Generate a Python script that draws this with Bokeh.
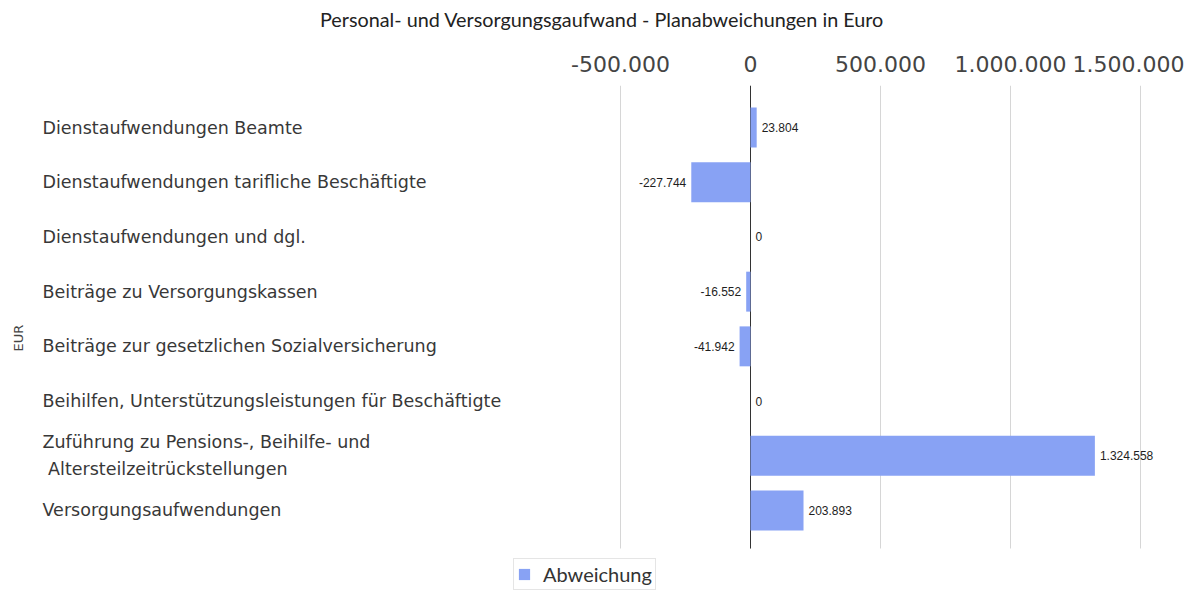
from bokeh.plotting import figure
from bokeh.models import (Range1d, ColumnDataSource, FixedTicker, Grid,
                          CustomJSTickFormatter, Legend, LegendItem)
from bokeh.core.properties import value
from bokeh.embed import file_html
from bokeh.resources import INLINE

# ---- data ----
categories = [
    "Dienstaufwendungen Beamte",
    "Dienstaufwendungen tarifliche Beschäftigte",
    "Dienstaufwendungen und dgl.",
    "Beiträge zu Versorgungskassen",
    "Beiträge zur gesetzlichen Sozialversicherung",
    "Beihilfen, Unterstützungsleistungen für Beschäftigte",
    "Zuführung zu Pensions-, Beihilfe- und\n\u00a0Altersteilzeitrückstellungen",
    "Versorgungsaufwendungen",
]
abweichung = [23804, -227744, 0, -16552, -41942, 0, 1324558, 203893]
x_ticks = [-500000, 0, 500000, 1000000, 1500000]
series_name = "Abweichung"
title_text = "Personal- und Versorgungsgaufwand - Planabweichungen in Euro"
y_label = "EUR"


def de_fmt(v):
    return f"{v:,}".replace(",", ".")


pos = list(range(len(categories)))
labels = [de_fmt(v) for v in abweichung]
aligns = ["right" if v < 0 else "left" for v in abweichung]
offsets = [-5 if v < 0 else 5 for v in abweichung]

src = ColumnDataSource(dict(pos=pos, cat=categories, val=abweichung, lbl=labels,
                            align=aligns, off=offsets))

X_START, X_END = -2738462, 1596154
Y_TOP, Y_BOTTOM = -0.768, 8.4625          # range, rows top-to-bottom
GRID_BOUNDS = (-0.768, 7.695)

p = figure(width=1184, height=590, output_backend="svg", toolbar_location=None,
           x_range=Range1d(X_START, X_END),
           y_range=Range1d(Y_BOTTOM, Y_TOP),
           x_axis_location="above",
           min_border_left=38, min_border_right=19, min_border_top=85, min_border_bottom=0)
p.outline_line_color = None
p.background_fill_color = "white"

# top axis (its axis label carries the chart title, sitting above the tick labels)
xa = p.xaxis[0]
xa.ticker = FixedTicker(ticks=x_ticks)
xa.formatter = CustomJSTickFormatter(
    code="return tick.toFixed(0).replace(/\\B(?=(\\d{3})+(?!\\d))/g, '.');")
xa.axis_line_color = None
xa.major_tick_line_color = None
xa.minor_tick_line_color = None
xa.major_label_text_font = "DejaVu Sans"
xa.major_label_text_font_size = "22px"
xa.major_label_text_color = "#444444"
xa.major_label_standoff = 8
xa.axis_label = title_text
xa.axis_label_text_font = "Lato"
xa.axis_label_text_font_size = "19.8px"
xa.axis_label_text_font_style = "normal"
xa.axis_label_text_color = "#222222"
xa.axis_label_standoff = 22

# left axis: only the axis label
ya = p.yaxis[0]
ya.ticker = FixedTicker(ticks=[])
ya.axis_label = y_label
ya.axis_label_text_font = "DejaVu Sans"
ya.axis_label_text_font_size = "13px"
ya.axis_label_text_font_style = "normal"
ya.axis_label_text_color = "#444444"
ya.axis_label_standoff = 13
ya.major_label_text_font_size = "0px"
ya.major_label_standoff = 0
ya.major_tick_line_color = None
ya.minor_tick_line_color = None
ya.major_tick_out = 0
ya.axis_line_color = None

p.xgrid.ticker = FixedTicker(ticks=x_ticks)
p.xgrid.grid_line_color = "#d6d6d6"
p.xgrid.cross_bounds = GRID_BOUNDS
p.ygrid.grid_line_color = None

# zero line
zero_grid = Grid(dimension=0, ticker=FixedTicker(ticks=[0]), grid_line_color="#333333",
                 grid_line_width=1, cross_bounds=GRID_BOUNDS)
p.add_layout(zero_grid)

bars = p.hbar(y="pos", left=0, right="val", height=0.73, source=src,
              fill_color="#88a2f4", line_color=None)

# category labels (left aligned)
p.text(x=X_START, y="pos", text="cat", source=src, x_offset=4,
       text_align="left", text_baseline="middle",
       text_font=value("DejaVu Sans"), text_font_size="17.5px",
       text_color="#383838", text_line_height=1.35)

# data labels
p.text(x="val", y="pos", text="lbl", source=src, x_offset="off",
       text_align="align", text_baseline="middle",
       text_font=value("Liberation Sans"), text_font_size="12px",
       text_color="#1e1e1e")

legend = Legend(items=[LegendItem(label=series_name, renderers=[bars])],
                location=(475, 0), orientation="horizontal",
                label_text_font="Lato", label_text_font_size="20px",
                label_text_color="#333333",
                glyph_width=14, glyph_height=14, label_standoff=12,
                padding=3, margin=0, border_line_color="#cccccc",
                background_fill_color="white")
p.add_layout(legend, "center")

open("out.html", "w").write(file_html(p, INLINE))
